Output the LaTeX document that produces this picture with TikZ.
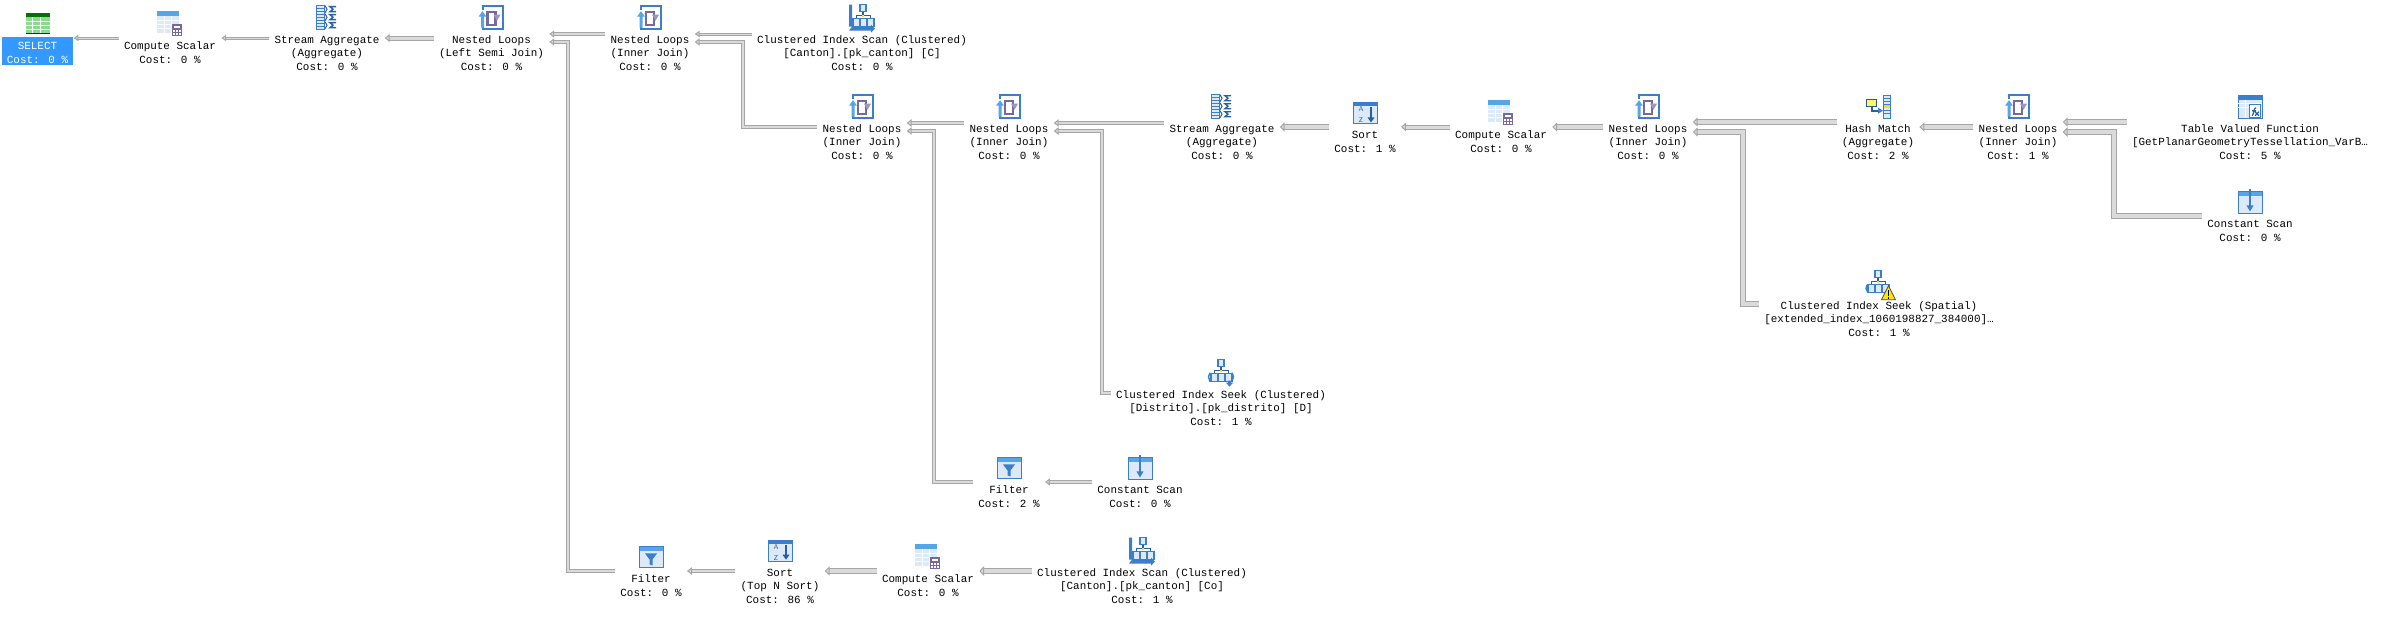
\documentclass[tikz,border=0pt]{standalone}
\usepackage{fontspec}
\usetikzlibrary{arrows.meta, calc}
\newfontfamily\planfont{Liberation Mono}
\newcommand{\opfont}{\planfont\fontsize{5.46pt}{6.75pt}\selectfont}
\definecolor{pipeedge}{HTML}{A6A6A6}
\definecolor{pipefill}{HTML}{DADADA}
\definecolor{selblue}{HTML}{3399FF}
\definecolor{iconblue}{HTML}{3B7FCC}
\definecolor{icondark}{HTML}{27609F}
\definecolor{iconlight}{HTML}{DCE9F8}
\definecolor{iconsky}{HTML}{56A5E8}
\definecolor{iconpurple}{HTML}{75699E}
\tikzstyle{op} = [align=center, inner xsep=2.5pt, inner ysep=0pt, font=\opfont, text=black]
\tikzstyle{selop} = [op, text=white, inner ysep=.5pt, path picture={
    \fill [selblue] (path picture bounding box.south west)
      rectangle ([yshift=.5pt]path picture bounding box.east);}]
\tikzstyle{pipe} = [draw=pipeedge, double=pipefill, double distance=#1, line width=.5pt,
  /utils/exec={\pgfmathsetlengthmacro\tipwidth{#1+2.6pt}},
  -{Triangle[length=2.4pt, width=\tipwidth, fill=pipefill]}]
\tikzstyle{icon} = [x=.5pt, y=-.5pt, line width=.5pt, baseline=(current bounding box.south)]
% icons are drawn on a 26 x 26 grid, in pixels of the page
\newcommand{\iconbox}{\useasboundingbox (0,1) rectangle (26,25);}
\newcommand{\iconselect}{\tikz [icon] {\iconbox
    \fill [green!35!white!85!black] (1,2) rectangle (25,23);
    \fill [green!45!black] (1,2) rectangle (25,6); \fill [green!30!black] (1,22) rectangle (25,23);
    \draw [white, line width=.4pt] (8,6) -- (8,22) (16,6) -- (16,22) (1,10) -- (25,10) (1,14) -- (25,14) (1,18) -- (25,18);}}
\newcommand{\iconcompute}{\tikz [icon] {\iconbox
    \fill [iconlight] (0,0) rectangle (22,22);
    \fill [iconsky] (0,0) rectangle (22,5);
    \draw [white, line width=.4pt] (7,5) -- (7,22) (14,5) -- (14,22) (0,9) -- (22,9) (0,13) -- (22,13) (0,17) -- (22,17);
    \fill [iconpurple] (15,13) rectangle (25,25);
    \fill [white] (17,15) rectangle (23,17);
    \foreach \px in {17,20,23} {\fill [white] (\px-.7,19) rectangle (\px+.7,20.5); \fill [white] (\px-.7,22) rectangle (\px+.7,23.5);}}}
\newcommand{\iconstream}{\tikz [icon] {\iconbox
    \fill [iconlight] (2,1) rectangle (10,25); \draw [iconblue] (2,1) rectangle (10,25);
    \foreach \py in {4,7,10,13,16,19,22} {\draw [iconblue] (2,\py) -- (10,\py);}
    \foreach \py in {1,9,17} {
      \draw [icondark] (11,\py) -- (13,\py+3.5) -- (11,\py+7);
      \draw [icondark, line width=.7pt] (22,\py+1) -- (16,\py+1) -- (19,\py+3.5) -- (16,\py+6) -- (22,\py+6);}}}
\newcommand{\iconnested}{\tikz [icon] {\iconbox
    \draw [iconblue, line width=1pt] (4,5) -- (4,1.5) -- (24,1.5) -- (24,24.5) -- (4,24.5) -- (4,14);
    \draw [iconpurple, line width=1.1pt] (9,7) -- (9,20) -- (17,20) -- (17,7) -- cycle;
    \fill [iconpurple!70!white] (15,10) -- (22,10) -- (18.5,16) -- cycle;
    \fill [iconsky] (0,12) -- (4,6.5) -- (8,12) -- (5.5,12) -- (5.5,23) -- (2.5,23) -- (2.5,12) -- cycle;}}
\newcommand{\treepart}{\fill [iconlight] (9,0) rectangle (15,7); \draw [iconblue, line width=.7pt] (9,0) rectangle (15,7);
    \draw [icondark, line width=.7pt] (12,7) -- (12,11) (5.5,14) -- (5.5,11) -- (19.5,11) -- (19.5,14);
    \fill [yellow!90!orange] (11,10) rectangle (13,12);
    \foreach \px in {2,9,16} {\fill [iconlight] (\px,14) rectangle (\px+7,22); \draw [iconblue, line width=.7pt] (\px,14) rectangle (\px+7,22);}}
\newcommand{\iconscan}{\tikz [icon] {\iconbox
    \begin{scope}[shift={(2,0)}] \treepart \end{scope}
    \fill [iconblue] (0,0) rectangle (3,22) -- (22,22) -- (22,20) -- (26,24) -- (22,28) -- (22,26) -- (0,26) -- cycle;}}
\newcommand{\iconseek}{\tikz [icon] {\iconbox
    \begin{scope}[shift={(1,0)}] \treepart \end{scope}
    \draw [iconblue, line width=.7pt] (2,13) -- (0.5,17) -- (2,22);
    \draw [iconblue, line width=.7pt] (24,13) -- (25.5,17) -- (24,22);
    \fill [iconblue] (20,21) -- (23,21) -- (23,23) -- (25,23) -- (21.5,27) -- (18,23) -- (20,23) -- cycle;}}
\newcommand{\iconspatial}{\tikz [icon] {\iconbox
    \treepart \draw [iconblue, line width=.7pt] (1,14) -- (0,18) -- (2,22);
    \fill [yellow!90!orange] (22.5,15) -- (29.5,29) -- (15.5,29) -- cycle;
    \draw [black!70, line width=.4pt] (22.5,15) -- (29.5,29) -- (15.5,29) -- cycle;
    \draw [black, line width=.9pt] (22.5,19.5) -- (22.5,25) (22.5,26) -- (22.5,28);}}
\newcommand{\iconsort}{\tikz [icon] {\iconbox
    \fill [iconlight] (1,2.5) rectangle (25,23.5); \fill [iconblue] (1,2.5) rectangle (25,6);
    \draw [iconblue] (1,2.5) rectangle (25,23.5);
    \node [inner sep=0pt, text=icondark, font=\fontsize{3.5pt}{3.5pt}\selectfont\sffamily] (sortaz) at (9,14.5) {\shortstack{A\\Z}};
    \draw [icondark, line width=1pt] (19,7) -- (19,18);
    \fill [icondark] (15.5,17) -- (22.5,17) -- (19,22) -- cycle;}}
\newcommand{\iconfilter}{\tikz [icon] {\iconbox
    \fill [iconlight] (1,2.5) rectangle (25,23.5); \fill [iconsky] (1,2.5) rectangle (25,6.5);
    \draw [iconblue] (1,2.5) rectangle (25,23.5);
    \fill [iconblue] (7,9) -- (19,9) -- (14.5,15) -- (14.5,21) -- (11.5,20) -- (11.5,15) -- cycle;}}
\newcommand{\iconconstant}{\tikz [icon] {\iconbox
    \fill [iconlight] (1,2) rectangle (25,24); \fill [iconsky] (1,2) rectangle (25,7);
    \draw [iconblue] (1,2) rectangle (25,24);
    \draw [iconblue, line width=1pt] (13,0) -- (13,18);
    \fill [iconblue] (9.5,16) -- (16.5,16) -- (13,22) -- cycle;}}
\newcommand{\iconfunction}{\tikz [icon] {\iconbox
    \fill [iconlight] (1,1.5) rectangle (25,24.5); \fill [iconblue] (1,1.5) rectangle (25,6);
    \draw [iconblue] (1,1.5) rectangle (25,24.5);
    \draw [white, line width=.4pt] (8,6) -- (8,24) (1,10) -- (25,10) (1,14) -- (25,14);
    \fill [white] (12,11) rectangle (23,24); \draw [iconblue] (12,11) rectangle (23,24);
    \draw [icondark, line width=.6pt] (15,22) .. controls (17,22) and (16,14) .. (19,14) (15,17) -- (19,17) (18,18) -- (22,22) (22,18) -- (18,22);}}
\newcommand{\iconhash}{\tikz [icon] {\iconbox
    \fill [iconlight] (18,1.5) rectangle (25,24.5); \draw [iconblue] (18,1.5) rectangle (25,24.5);
    \foreach \py in {5,8,11,14,17,20} {\draw [iconblue] (18,\py) -- (25,\py);}
    \fill [yellow!80!orange] (18.5,11.5) rectangle (24.5,14.5);
    \fill [yellow!60!white] (1,5.5) rectangle (11,12.5); \draw [iconblue!70!black] (1,5.5) rectangle (11,12.5);
    \draw [icondark, line width=.9pt] (7,12.5) -- (7,17) -- (14,17);
    \fill [iconblue] (13,14) -- (18,17) -- (13,20) -- cycle;}}

\begin{document}
\begin{tikzpicture}[x=.5pt, y=-.5pt]
    \useasboundingbox (0,0) rectangle (2382,616);
    % top row
    \node [selop] (select) at (37.5,38) {\iconselect\\SELECT\\Cost: 0 \%};
    \node [op] (computeA) at (170,38) {\iconcompute\\Compute Scalar\\Cost: 0 \%};
    \node [op] (streamA) at (327,38) {\iconstream\\Stream Aggregate\\(Aggregate)\\Cost: 0 \%};
    \node [op] (semijoin) at (491.5,38) {\iconnested\\Nested Loops\\(Left Semi Join)\\Cost: 0 \%};
    \node [op] (joinA) at (650,38) {\iconnested\\Nested Loops\\(Inner Join)\\Cost: 0 \%};
    \node [op] (scanC) at (862,38) {\iconscan\\Clustered Index Scan (Clustered)\\{}[Canton].[pk\_canton] [C]\\Cost: 0 \%};

    % middle row
    \node [op] (joinB) at (862,127) {\iconnested\\Nested Loops\\(Inner Join)\\Cost: 0 \%};
    \node [op] (joinC) at (1009,127) {\iconnested\\Nested Loops\\(Inner Join)\\Cost: 0 \%};
    \node [op] (streamB) at (1222,127) {\iconstream\\Stream Aggregate\\(Aggregate)\\Cost: 0 \%};
    \node [op] (sortA) at (1365,127) {\iconsort\\Sort\\Cost: 1 \%};
    \node [op] (computeB) at (1501,127) {\iconcompute\\Compute Scalar\\Cost: 0 \%};
    \node [op] (joinD) at (1648,127) {\iconnested\\Nested Loops\\(Inner Join)\\Cost: 0 \%};
    \node [op] (hash) at (1878,127) {\iconhash\\Hash Match\\(Aggregate)\\Cost: 2 \%};
    \node [op] (joinE) at (2018,127) {\iconnested\\Nested Loops\\(Inner Join)\\Cost: 1 \%};
    \node [op] (tvf) at (2250,127) {\iconfunction\\Table Valued Function\\{}[GetPlanarGeometryTessellation\_VarB…\\Cost: 5 \%};
    \node [op] (constA) at (2250,216) {\iconconstant\\Constant Scan\\Cost: 0 \%};
    \node [op] (spatial) at (1879,304) {\iconspatial\\Clustered Index Seek (Spatial)\\{}[extended\_index\_1060198827\_384000]…\\Cost: 1 \%};

    % lower rows
    \node [op] (seekD) at (1221,393) {\iconseek\\Clustered Index Seek (Clustered)\\{}[Distrito].[pk\_distrito] [D]\\Cost: 1 \%};
    \node [op] (filterA) at (1009,482) {\iconfilter\\Filter\\Cost: 2 \%};
    \node [op] (constB) at (1140,482) {\iconconstant\\Constant Scan\\Cost: 0 \%};
    \node [op] (filterB) at (651,571) {\iconfilter\\Filter\\Cost: 0 \%};
    \node [op] (sortB) at (780,571) {\iconsort\\Sort\\(Top N Sort)\\Cost: 86 \%};
    \node [op] (computeC) at (928,571) {\iconcompute\\Compute Scalar\\Cost: 0 \%};
    \node [op] (scanCo) at (1142,571) {\iconscan\\Clustered Index Scan (Clustered)\\{}[Canton].[pk\_canton] [Co]\\Cost: 1 \%};

    \path [pipe=.5pt] (computeA) -- (select);
    \path [pipe=.5pt] (streamA) -- (computeA);
    \path [pipe=1.5pt] (semijoin) -- (streamA);
    \path [pipe=1pt] (joinA.west) ++(0,-4) -- ($(semijoin.east)+(0,-4)$);
    \path [pipe=1pt] (filterB.west) -| ($(semijoin.east)+(18.5,4)$) -- ($(semijoin.east)+(0,4)$);
    \path [pipe=.5pt] (scanC.west) ++(0,-4) -- ($(joinA.east)+(0,-4)$);
    \path [pipe=1pt] (joinB.west) -| ($(joinA.east)+(48.7,4)$) -- ($(joinA.east)+(0,4)$);
    \path [pipe=1.2pt] (joinC.west) ++(0,-4) -- ($(joinB.east)+(0,-4)$);
    \path [pipe=1pt] (filterA.west) -| ($(joinB.east)+(27,4)$) -- ($(joinB.east)+(0,4)$);
    \path [pipe=1pt] (streamB.west) ++(0,-4) -- ($(joinC.east)+(0,-4)$);
    \path [pipe=1.2pt] (seekD.west) -| ($(joinC.east)+(48,4)$) -- ($(joinC.east)+(0,4)$);
    \path [pipe=2pt] (sortA) -- (streamB);
    \path [pipe=1.5pt] (computeB) -- (sortA);
    \path [pipe=2pt] (joinD) -- (computeB);
    \path [pipe=1.8pt] (hash.west) ++(0,-5) -- ($(joinD.east)+(0,-5)$);
    \path [pipe=1.8pt] (spatial.west) -| ($(joinD.east)+(50,5)$) -- ($(joinD.east)+(0,5)$);
    \path [pipe=2pt] (joinE) -- (hash);
    \path [pipe=1.8pt] (tvf.west) ++(0,-5) -- ($(joinE.east)+(0,-5)$);
    \path [pipe=2.2pt] (constA.west) -| ($(joinE.east)+(51,5)$) -- ($(joinE.east)+(0,5)$);
    \path [pipe=.8pt] (constB) -- (filterA);
    \path [pipe=1pt] (sortB) -- (filterB);
    \path [pipe=2pt] (computeC) -- (sortB);
    \path [pipe=2.3pt] (scanCo) -- (computeC);

  \end{tikzpicture}
\end{document}
